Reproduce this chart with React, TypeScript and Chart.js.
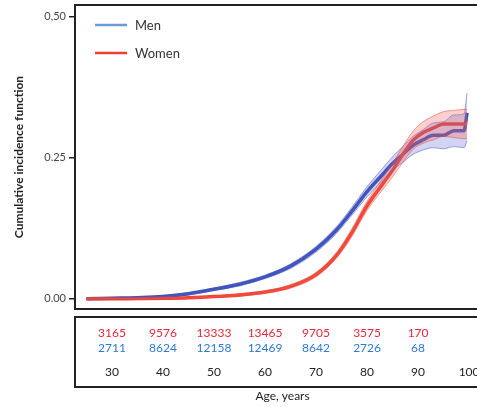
import React, { useEffect, useRef } from 'react';
import { Chart, registerables } from 'chart.js';

Chart.register(...registerables);

// ---- data ----
const AGES = [25, 30, 35, 40, 45, 50, 55, 60, 65, 70, 74, 77, 80, 83, 85, 87, 89, 91, 93, 95, 97, 99, 99.6];

const MEN = [0, 0.001, 0.002, 0.004, 0.009, 0.017, 0.026, 0.039, 0.058, 0.088, 0.122, 0.155, 0.19, 0.22, 0.24, 0.256, 0.272, 0.282, 0.29, 0.29, 0.298, 0.298, 0.33];
const MEN_LO = [0, 0.0005, 0.0015, 0.003, 0.007, 0.015, 0.023, 0.036, 0.054, 0.083, 0.116, 0.148, 0.181, 0.209, 0.228, 0.242, 0.256, 0.264, 0.268, 0.266, 0.27, 0.268, 0.28];
const MEN_HI = [0.001, 0.0015, 0.003, 0.005, 0.011, 0.019, 0.029, 0.042, 0.062, 0.093, 0.128, 0.162, 0.199, 0.231, 0.252, 0.27, 0.288, 0.3, 0.312, 0.314, 0.326, 0.328, 0.365];

const WOMEN = [0, 0, 0.0005, 0.001, 0.002, 0.004, 0.007, 0.012, 0.022, 0.043, 0.077, 0.117, 0.165, 0.203, 0.228, 0.256, 0.281, 0.295, 0.303, 0.31, 0.31, 0.31, 0.31];
const WOMEN_LO = [0, 0, 0, 0.0005, 0.001, 0.003, 0.005, 0.01, 0.019, 0.039, 0.072, 0.11, 0.157, 0.193, 0.216, 0.242, 0.265, 0.276, 0.282, 0.288, 0.286, 0.284, 0.284];
const WOMEN_HI = [0.0005, 0.001, 0.001, 0.002, 0.003, 0.005, 0.009, 0.014, 0.025, 0.047, 0.082, 0.124, 0.173, 0.213, 0.24, 0.27, 0.297, 0.314, 0.324, 0.332, 0.334, 0.336, 0.336];

const SERIES_LABELS = ['Men', 'Women'];
const AGE_TICKS = [30, 40, 50, 60, 70, 80, 90, 100];
const Y_TICKS = [0, 0.25, 0.5];
const Y_TICK_LABELS = ['0.00', '0.25', '0,50'];
const RISK_AGES = [30, 40, 50, 60, 70, 80, 90];
const RISK_WOMEN = ['3165', '9576', '13333', '13465', '9705', '3575', '170'];
const RISK_MEN = ['2711', '8624', '12158', '12469', '8642', '2726', '68'];

const X_TITLE = 'Age, years';
const Y_TITLE = 'Cumulative incidence function';

const FONT = 'Lato, "Open Sans", sans-serif';
const BLUE_LINE = '#3a4fb4';
const BLUE_LEGEND = '#6b9bd8';
const BLUE_TEXT = '#2f78cc';
const RED_LINE = '#ee3f34';
const RED_TEXT = '#e8253a';

const pts = (ys: number[]) => AGES.map((x, i) => ({ x, y: ys[i] }));

const overlay = {
  id: 'overlay',
  afterDraw(chart: any) {
    const { ctx, chartArea: a, scales } = chart;
    const xs = scales.x;
    ctx.save();
    ctx.strokeStyle = '#222';
    ctx.lineWidth = 2;
    ctx.strokeRect(a.left, a.top, a.right - a.left, a.bottom - a.top);
    // risk table box
    ctx.strokeRect(a.left, a.bottom + 8, a.right - a.left, 70);

    // numbers at risk
    ctx.font = `12px ${FONT}`;
    ctx.textAlign = 'center';
    ctx.textBaseline = 'middle';
    RISK_AGES.forEach((age, i) => {
      const px = xs.getPixelForValue(age);
      ctx.fillStyle = RED_TEXT;
      ctx.fillText(RISK_WOMEN[i], px, a.bottom + 24);
      ctx.fillStyle = BLUE_TEXT;
      ctx.fillText(RISK_MEN[i], px, a.bottom + 39);
    });

    // legend
    const legendColors = [BLUE_LEGEND, RED_LINE];
    ctx.font = `13px ${FONT}`;
    ctx.textAlign = 'left';
    SERIES_LABELS.forEach((lab, i) => {
      const ly = a.top + 20 + i * 28;
      ctx.strokeStyle = legendColors[i];
      ctx.lineWidth = 2.5;
      ctx.beginPath();
      ctx.moveTo(a.left + 20, ly);
      ctx.lineTo(a.left + 52, ly);
      ctx.stroke();
      ctx.fillStyle = '#333';
      ctx.fillText(lab, a.left + 60, ly + 1);
    });

    // y title
    ctx.save();
    ctx.translate(19, (a.top + a.bottom) / 2);
    ctx.rotate(-Math.PI / 2);
    ctx.font = `bold 12px ${FONT}`;
    ctx.fillStyle = '#222';
    ctx.textAlign = 'center';
    ctx.textBaseline = 'middle';
    ctx.fillText(Y_TITLE, 0, 0);
    ctx.restore();

    ctx.restore();
  },
};

export default function App() {
  const ref = useRef<HTMLCanvasElement>(null);
  useEffect(() => {
    const canvas = ref.current!;
    const band = (data: number[], color: string, fill: any, bg: string) => ({
      data: pts(data),
      borderColor: color,
      backgroundColor: bg,
      borderWidth: 1,
      pointRadius: 0,
      fill,
      cubicInterpolationMode: 'monotone' as const,
    });
    const chart = new Chart(canvas, {
      type: 'line',
      data: {
        datasets: [
          band(WOMEN_LO, 'rgba(240,80,60,0.55)', false, 'transparent'),
          band(WOMEN_HI, 'rgba(240,80,60,0.55)', '-1', 'rgba(245,100,90,0.3)'),
          band(MEN_LO, 'rgba(70,90,200,0.5)', false, 'transparent'),
          band(MEN_HI, 'rgba(70,90,200,0.5)', '-1', 'rgba(90,100,210,0.28)'),
          {
            label: SERIES_LABELS[1],
            data: pts(WOMEN),
            borderColor: RED_LINE,
            borderWidth: 3.5,
            pointRadius: 0,
            fill: false,
            cubicInterpolationMode: 'monotone',
          },
          {
            label: SERIES_LABELS[0],
            data: pts(MEN),
            borderColor: BLUE_LINE,
            borderWidth: 3.5,
            pointRadius: 0,
            fill: false,
            cubicInterpolationMode: 'monotone',
          },
        ],
      },
      options: {
        animation: false,
        responsive: false,
        events: [],
        layout: { padding: { left: 0, top: 5, right: 10, bottom: 0 } },
        plugins: { legend: { display: false }, tooltip: { enabled: false } },
        scales: {
          x: {
            type: 'linear',
            min: 22.75,
            max: 104.1,
            afterBuildTicks: (s: any) => {
              s.ticks = AGE_TICKS.map((v) => ({ value: v }));
            },
            afterFit: (s: any) => {
              s.height = 98;
              s.paddingLeft = 0;
              s.paddingRight = 0;
            },
            grid: { display: false, drawTicks: false },
            border: { display: false },
            ticks: {
              padding: 56,
              maxRotation: 0,
              autoSkip: false,
              color: '#222',
              font: { family: FONT, size: 12 },
              callback: (v: any) => String(v),
            },
            title: {
              display: true,
              text: X_TITLE,
              color: '#222',
              font: { family: FONT, size: 12 },
              padding: { top: 0, bottom: 4 },
            },
          },
          y: {
            type: 'linear',
            min: -0.018,
            max: 0.521,
            afterBuildTicks: (s: any) => {
              s.ticks = Y_TICKS.map((v) => ({ value: v }));
            },
            afterFit: (s: any) => {
              s.width = 75;
              s.paddingTop = 0;
              s.paddingBottom = 0;
            },
            grid: { drawOnChartArea: false, drawTicks: true, tickLength: 6, color: '#222', lineWidth: 1.5 },
            border: { display: false },
            ticks: {
              padding: 3,
              color: '#444',
              font: { family: FONT, size: 11 },
              callback: (v: any) => {
                const i = Y_TICKS.indexOf(v);
                return i >= 0 ? Y_TICK_LABELS[i] : '';
              },
            },
            title: { display: false },
          },
        },
      },
      plugins: [overlay],
    });
    return () => chart.destroy();
  }, []);

  return (
    <div style={{ position: 'fixed', left: 0, top: 0, width: 477, height: 407, overflow: 'hidden', background: '#fff' }}>
      <canvas ref={ref} width={500} height={407} style={{ display: 'block', width: 500, height: 407 }} />
    </div>
  );
}
